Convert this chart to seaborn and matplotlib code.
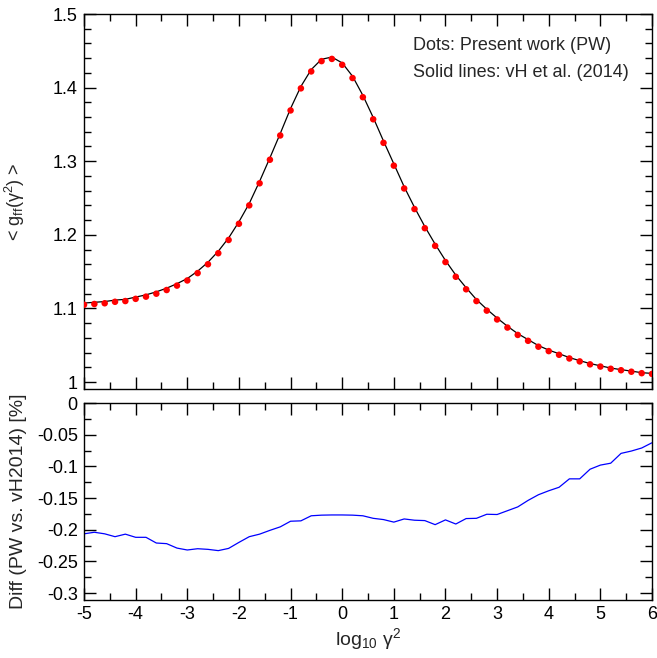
import numpy as np
import pandas as pd
import matplotlib
matplotlib.use("Agg")
import matplotlib.pyplot as plt
import seaborn as sns
from matplotlib.ticker import MultipleLocator

# ---------------- data ----------------
log_gamma2 = [-5.0, -4.8, -4.6, -4.4, -4.2, -4.0, -3.8, -3.6, -3.4, -3.2,
              -3.0, -2.8, -2.6, -2.4, -2.2, -2.0, -1.8, -1.6, -1.4, -1.2,
              -1.0, -0.8, -0.6, -0.4, -0.2, 0.0, 0.2, 0.4, 0.6, 0.8,
              1.0, 1.2, 1.4, 1.6, 1.8, 2.0, 2.2, 2.4, 2.6, 2.8,
              3.0, 3.2, 3.4, 3.6, 3.8, 4.0, 4.2, 4.4, 4.6, 4.8,
              5.0, 5.2, 5.4, 5.6, 5.8, 6.0]

gff_pw = [1.105, 1.106, 1.107, 1.109, 1.110, 1.113, 1.116, 1.120, 1.125, 1.131,
          1.138, 1.148, 1.160, 1.175, 1.193, 1.215, 1.240, 1.270, 1.302, 1.335,
          1.369, 1.399, 1.422, 1.436, 1.439, 1.431, 1.413, 1.387, 1.357, 1.325,
          1.294, 1.263, 1.235, 1.209, 1.185, 1.163, 1.143, 1.126, 1.110, 1.097,
          1.085, 1.074, 1.064, 1.056, 1.048, 1.042, 1.037, 1.032, 1.028, 1.024,
          1.021, 1.018, 1.016, 1.014, 1.012, 1.011]

gff_vh2014 = [1.1073, 1.1083, 1.1093, 1.1113, 1.1123, 1.1154, 1.1184, 1.1225, 1.1275, 1.1336,
              1.1406, 1.1506, 1.1627, 1.1777, 1.1957, 1.2177, 1.2426, 1.2726, 1.3046, 1.3376,
              1.3716, 1.4016, 1.4245, 1.4385, 1.4415, 1.4335, 1.4155, 1.3895, 1.3595, 1.3274,
              1.2964, 1.2653, 1.2373, 1.2112, 1.1873, 1.1651, 1.1452, 1.1281, 1.1120, 1.0989,
              1.0869, 1.0758, 1.0657, 1.0576, 1.0495, 1.0434, 1.0384, 1.0332, 1.0290, 1.0251,
              1.0220, 1.0190, 1.0168, 1.0148, 1.0127, 1.0117]

diff_pct = [-0.2065, -0.204, -0.2065, -0.211, -0.207, -0.212, -0.212, -0.221, -0.222, -0.229,
            -0.232, -0.230, -0.231, -0.233, -0.2295, -0.220, -0.211, -0.207, -0.201, -0.1955,
            -0.1866, -0.186, -0.178, -0.177, -0.1767, -0.1767, -0.177, -0.178, -0.182, -0.184,
            -0.188, -0.183, -0.185, -0.1856, -0.192, -0.1845, -0.191, -0.1824, -0.182, -0.1756,
            -0.176, -0.170, -0.164, -0.1537, -0.1448, -0.1385, -0.133, -0.1197, -0.1197, -0.1045,
            -0.098, -0.095, -0.0795, -0.0758, -0.071, -0.0627]

df = pd.DataFrame({"x": log_gamma2, "pw": gff_pw, "vh": gff_vh2014, "diff": diff_pct})

# ---------------- style ----------------
sns.set_theme(style="ticks")
plt.rcParams["font.family"] = ["Liberation Sans", "DejaVu Sans"]
plt.rcParams["mathtext.fontset"] = "custom"
plt.rcParams["mathtext.rm"] = "Liberation Sans"
plt.rcParams["mathtext.it"] = "Liberation Sans:italic"
plt.rcParams["mathtext.default"] = "regular"

fig = plt.figure(figsize=(6.57, 6.58), dpi=100)
ax1 = fig.add_axes([0.1279, 0.4088, 0.8645, 0.5699])
ax2 = fig.add_axes([0.1279, 0.0881, 0.8645, 0.2994])

sns.lineplot(data=df, x="x", y="vh", ax=ax1, color="black", lw=0.9, sort=False)
sns.scatterplot(data=df, x="x", y="pw", ax=ax1, color="red", s=22, edgecolor="none", zorder=3)
sns.lineplot(data=df, x="x", y="diff", ax=ax2, color="blue", lw=0.9, sort=False)

ax1.set_xlim(-5, 6)
ax1.set_ylim(0.9905, 1.5)
ax2.set_xlim(-5, 6)
ax2.set_ylim(-0.311, 0.0)

for ax in (ax1, ax2):
    ax.xaxis.set_major_locator(MultipleLocator(1))
    ax.xaxis.set_minor_locator(MultipleLocator(0.5))
    ax.tick_params(which="both", direction="in", top=True, right=True,
                   width=1.0, colors="black", labelsize=13, pad=4.5)
    ax.tick_params(which="major", length=8.5)
    ax.tick_params(which="minor", length=5)
    for sp in ax.spines.values():
        sp.set_linewidth(1.0)
        sp.set_color("black")
        sp.set_visible(True)
    ax.yaxis.set_label_coords(-0.101, 0.5)

ax1.yaxis.set_major_locator(MultipleLocator(0.1))
ax1.yaxis.set_minor_locator(MultipleLocator(0.02))
ax1.set_yticks([1.0, 1.1, 1.2, 1.3, 1.4, 1.5])
ax1.set_yticklabels(["1", "1.1", "1.2", "1.3", "1.4", "1.5"])
ax1.tick_params(axis="x", labelbottom=False)
ax1.set_xlabel("")
ax1.set_ylabel(r"< g$_{ff}$($\gamma^2$) >", fontsize=13)

ax2.set_yticks([0, -0.05, -0.1, -0.15, -0.2, -0.25, -0.3])
ax2.set_yticklabels(["0", "-0.05", "-0.1", "-0.15", "-0.2", "-0.25", "-0.3"])
ax2.yaxis.set_minor_locator(MultipleLocator(0.025))
ax2.set_xticks(range(-5, 7))
ax2.set_xticklabels([str(v) for v in range(-5, 7)])
ax2.set_ylabel("Diff (PW vs. vH2014) [%]", fontsize=14)
ax2.set_xlabel(r"log$_{10}$ $\gamma^2$", fontsize=14)
ax2.xaxis.set_label_coords(0.5, -0.13)

ax1.text(0.58, 0.915, "Dots: Present work (PW)", transform=ax1.transAxes,
         fontsize=13, ha="left", va="center")
ax1.text(0.58, 0.845, "Solid lines: vH et al. (2014)", transform=ax1.transAxes,
         fontsize=13, ha="left", va="center")

fig.savefig("out.png", dpi=100)
